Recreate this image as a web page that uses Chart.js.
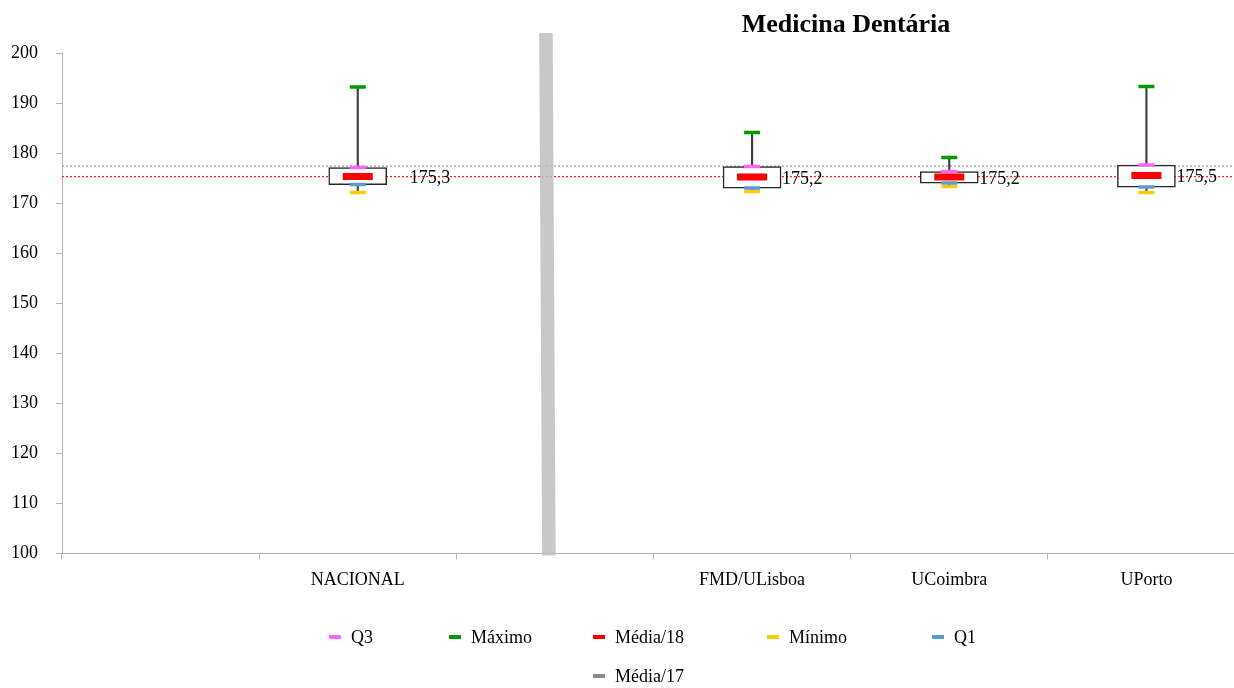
<!DOCTYPE html>
<html>
<head>
<meta charset="utf-8">
<script src="https://cdn.jsdelivr.net/npm/chart.js@4/dist/chart.umd.min.js"></script>
<style>
  body { margin: 0; background: #fff; overflow: hidden; width: 1234px; height: 688px; position: relative; }
  #wrap { position: absolute; left: -18px; top: 0; width: 1285px; height: 688px; }
  #title { position: absolute; left: 846px; top: 11px; transform: translateX(-50%);
           font: bold 26px "Liberation Serif", "Times New Roman", serif; line-height: 26px; white-space: nowrap; color: #000; }
  #legend { position: absolute; left: 329px; top: 627px; display: grid;
            grid-template-columns: 120px 144px 174px 165px 100px; grid-auto-rows: 20px; row-gap: 19px;
            font: 18px "Liberation Serif", "Times New Roman", serif; color: #000; }
  .item { display: flex; align-items: center; white-space: nowrap; }
  .mark { width: 12px; height: 4px; margin-right: 10px; }
</style>
</head>
<body>
<div id="wrap"><canvas id="chart" width="1285" height="688"></canvas></div>
<div id="title">Medicina Dentária</div>
<div id="legend"></div>
<script>
// Categories (blank slots are the empty column and the separator column)
const categories = ['', 'NACIONAL', '', 'FMD/ULisboa', 'UCoimbra', 'UPorto'];

// Series values
const maximo  = [null, 193.2, null, 184.1, 179.1, 193.3];
const q3      = [null, 177.1, null, 177.3, 176.3, 177.6];
const media18 = [null, 175.3, null, 175.2, 175.2, 175.5];
const q1      = [null, 173.7, null, 173.0, 174.0, 173.2];
const minimo  = [null, 172.1, null, 172.3, 173.3, 172.1];

// National reference lines
const media18Nacional = 175.3;
const media17Nacional = 177.4;

// Y axis ticks
const yMin = 100;
const yMax = 200;
const yStep = 10;

const serif = '"Liberation Serif", "Times New Roman", serif';

const colors = {
  q3: '#ff66ff',
  max: '#009900',
  media18: '#ff0000',
  min: '#ffcc00',
  q1: '#5b9bd5',
  media17: '#8c8c8c'
};

function pairs(lo, hi) {
  return categories.map((_, i) => (lo[i] == null ? null : [lo[i], hi[i]]));
}

function markerSet(label, data, color, radius, width, order) {
  return {
    type: 'line', label: label, data: data, showLine: false,
    pointStyle: 'line', pointRadius: radius, pointHoverRadius: radius,
    pointBorderWidth: width, pointHoverBorderWidth: width,
    borderColor: color, backgroundColor: color, order: order
  };
}

// dotted national lines + grey separator
const backdrop = {
  id: 'backdrop',
  beforeDatasetsDraw(chart) {
    const { ctx, chartArea, scales: { x, y } } = chart;
    ctx.save();
    ctx.lineWidth = 1.3;
    ctx.setLineDash([2, 2]);
    [[media17Nacional, 'rgba(160,160,160,1)'], [media18Nacional, 'rgba(255,30,30,1)']].forEach(([v, c]) => {
      const py = y.getPixelForValue(v);
      ctx.strokeStyle = c;
      ctx.beginPath();
      ctx.moveTo(chartArea.left, py);
      ctx.lineTo(chartArea.right, py);
      ctx.stroke();
    });
    ctx.setLineDash([]);
    const cx = x.getPixelForValue(2);
    ctx.strokeStyle = 'rgba(190,190,190,0.85)';
    ctx.lineWidth = 13.5;
    ctx.beginPath();
    ctx.moveTo(cx - 9, y.getPixelForValue(204));
    ctx.lineTo(cx - 6, chartArea.bottom + 2);
    ctx.stroke();
    ctx.restore();
  }
};

// mean value labels next to the boxes
const meanLabels = {
  id: 'meanLabels',
  afterDatasetsDraw(chart, args, opts) {
    const { ctx, scales: { x, y } } = chart;
    ctx.save();
    ctx.font = '18px ' + serif;
    ctx.fillStyle = '#000';
    ctx.textAlign = 'left';
    ctx.textBaseline = 'middle';
    media18.forEach((v, i) => {
      if (v == null) return;
      const px = x.getPixelForValue(i) + 30 + (opts.shift[i] || 0);
      ctx.fillText(v.toFixed(1).replace('.', ','), px, y.getPixelForValue(v) + 2);
    });
    ctx.restore();
  }
};

new Chart(document.getElementById('chart'), {
  type: 'bar',
  data: {
    labels: categories,
    datasets: [
      {
        label: 'whisker', data: pairs(minimo, maximo), backgroundColor: '#404040',
        barThickness: 1.5, grouped: false, order: 10
      },
      {
        label: 'box', data: pairs(q1, q3), backgroundColor: '#ffffff', borderColor: '#262626',
        borderWidth: 1.5, borderSkipped: false, barThickness: 58, grouped: false, order: 9
      },
      markerSet('Q3', q3, colors.q3, 8, 3.5, 5),
      markerSet('Máximo', maximo, colors.max, 8, 3.5, 4),
      markerSet('Mínimo', minimo, colors.min, 8, 3.5, 3),
      markerSet('Q1', q1, colors.q1, 8, 3.5, 2),
      markerSet('Média/18', media18, colors.media18, 15, 7, 1)
    ]
  },
  options: {
    responsive: false,
    animation: false,
    events: [],
    layout: { padding: { left: 11, right: 15, top: 53, bottom: 87 } },
    plugins: {
      legend: { display: false },
      tooltip: { enabled: false },
      meanLabels: { shift: [0, 22, 0, 0, 0, 0] }
    },
    scales: {
      x: {
        offset: true,
        grid: { display: true, drawOnChartArea: false, offset: true, tickLength: 6, color: '#b3b3b3' },
        border: { color: '#b3b3b3', width: 1 },
        ticks: { font: { family: serif, size: 18 }, color: '#000', padding: 10, maxRotation: 0 }
      },
      y: {
        min: yMin, max: yMax,
        grid: { display: true, drawOnChartArea: false, tickLength: 6, color: '#b3b3b3' },
        border: { color: '#b3b3b3', width: 1 },
        ticks: { stepSize: yStep, font: { family: serif, size: 18 }, color: '#000', padding: 18 }
      }
    }
  },
  plugins: [backdrop, meanLabels]
});

// legend laid out like the original grid
const legendItems = [
  ['Q3', colors.q3], ['Máximo', colors.max], ['Média/18', colors.media18],
  ['Mínimo', colors.min], ['Q1', colors.q1], ['Média/17', colors.media17]
];
const legend = document.getElementById('legend');
legendItems.forEach(([text, color], i) => {
  const el = document.createElement('div');
  el.className = 'item';
  if (i === 5) el.style.gridColumn = '3';
  el.innerHTML = '<span class="mark" style="background:' + color + '"></span><span>' + text + '</span>';
  legend.appendChild(el);
});
</script>
</body>
</html>
